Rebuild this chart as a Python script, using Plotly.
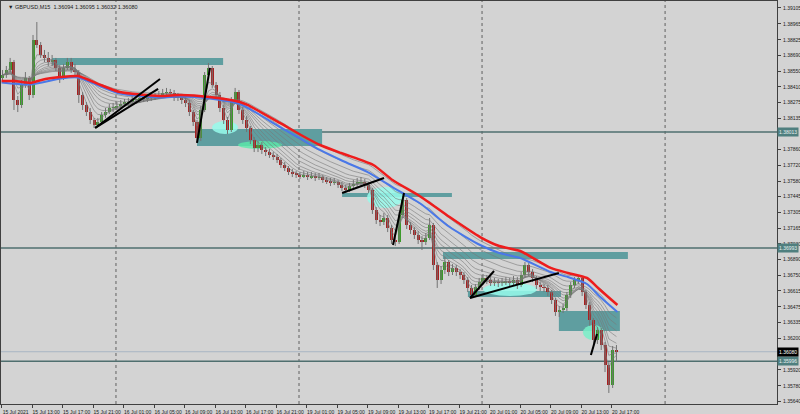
import plotly.graph_objects as go

# ---------------- DATA (GBPUSD, candles; 30-min resolution) ----------------
opens = [1.38489,1.38515,1.38559,1.38629,1.38295,1.38251,1.38427,1.38489,1.38339,1.38823,
 1.38779,1.38691,1.38665,1.38629,1.38647,1.38577,1.38489,1.38577,1.38629,1.38559,
 1.38541,1.38339,1.38251,1.38189,1.38119,1.38075,1.38101,1.38163,1.38189,1.38225,
 1.38233,1.38242,1.38260,1.38269,1.38277,1.38295,1.38295,1.38313,1.38304,1.38313,
 1.38330,1.38321,1.38339,1.38357,1.38365,1.38357,1.38313,1.38321,1.38295,1.38269,
 1.38189,1.38101,1.37961,1.38207,1.38515,1.38577,1.38427,1.38339,1.38225,1.38119,
 1.38031,1.38295,1.38365,1.38207,1.38119,1.38049,1.37943,1.37873,1.37899,1.37855,
 1.37837,1.37811,1.37793,1.37767,1.37723,1.37697,1.37661,1.37644,1.37635,1.37626,
 1.37635,1.37617,1.37626,1.37609,1.37617,1.37591,1.37582,1.37565,1.37573,1.37547,
 1.37521,1.37503,1.37538,1.37556,1.37565,1.37573,1.37547,1.37503,1.37327,1.37239,
 1.37221,1.37257,1.37169,1.37063,1.37045,1.37283,1.37415,1.37195,1.37151,1.37107,
 1.37063,1.37045,1.37081,1.37195,1.36843,1.36711,1.36799,1.36869,1.36781,1.36816,
 1.36781,1.36755,1.36711,1.36641,1.36579,1.36649,1.36693,1.36729,1.36711,1.36685,
 1.36693,1.36685,1.36693,1.36702,1.36685,1.36711,1.36667,1.36755,1.36843,1.36781,
 1.36729,1.36667,1.36649,1.36641,1.36605,1.36535,1.36429,1.36447,1.36465,1.36579,
 1.36667,1.36711,1.36729,1.36605,1.36491,1.36359,1.36183,1.36271,1.36139,1.35963,
 1.35787,1.36095]
highs = [1.38559,1.38594,1.38665,1.38647,1.38330,1.38471,1.38541,1.38506,1.38867,1.38981,
 1.38805,1.38735,1.38717,1.38691,1.38665,1.38603,1.38612,1.38665,1.38665,1.38612,
 1.38559,1.38365,1.38277,1.38225,1.38137,1.38137,1.38189,1.38225,1.38260,1.38269,
 1.38277,1.38295,1.38304,1.38313,1.38330,1.38330,1.38348,1.38339,1.38348,1.38365,
 1.38357,1.38374,1.38392,1.38401,1.38392,1.38383,1.38357,1.38348,1.38321,1.38295,
 1.38207,1.38119,1.38242,1.38541,1.38621,1.38594,1.38453,1.38365,1.38251,1.38145,
 1.38321,1.38401,1.38383,1.38233,1.38154,1.38066,1.37969,1.37934,1.37925,1.37881,
 1.37864,1.37837,1.37820,1.37785,1.37749,1.37714,1.37688,1.37670,1.37661,1.37670,
 1.37661,1.37661,1.37653,1.37653,1.37635,1.37617,1.37609,1.37609,1.37591,1.37573,
 1.37547,1.37565,1.37591,1.37609,1.37617,1.37600,1.37573,1.37521,1.37353,1.37283,
 1.37301,1.37283,1.37195,1.37098,1.37309,1.37450,1.37433,1.37221,1.37177,1.37142,
 1.37098,1.37125,1.37257,1.37213,1.36869,1.36834,1.36913,1.36887,1.36851,1.36843,
 1.36807,1.36781,1.36737,1.36667,1.36676,1.36729,1.36764,1.36755,1.36737,1.36729,
 1.36720,1.36729,1.36737,1.36729,1.36746,1.36737,1.36781,1.36869,1.36860,1.36807,
 1.36746,1.36693,1.36676,1.36667,1.36623,1.36553,1.36482,1.36500,1.36605,1.36693,
 1.36737,1.36755,1.36746,1.36623,1.36517,1.36377,1.36298,1.36289,1.36165,1.35989,
 1.36130,1.36139]
lows = [1.38453,1.38489,1.38541,1.38207,1.38189,1.38225,1.38401,1.38295,1.38313,1.38753,
 1.38665,1.38629,1.38594,1.38594,1.38550,1.38445,1.38471,1.38559,1.38533,1.38506,
 1.38269,1.38207,1.38154,1.38084,1.38049,1.38057,1.38084,1.38137,1.38172,1.38189,
 1.38207,1.38216,1.38233,1.38242,1.38251,1.38260,1.38269,1.38277,1.38277,1.38286,
 1.38295,1.38304,1.38321,1.38330,1.38321,1.38286,1.38286,1.38260,1.38233,1.38154,
 1.38066,1.37917,1.37934,1.38189,1.38489,1.38401,1.38304,1.38189,1.38084,1.37996,
 1.38013,1.38260,1.38172,1.38084,1.38013,1.37908,1.37837,1.37837,1.37820,1.37802,
 1.37785,1.37767,1.37741,1.37697,1.37670,1.37635,1.37617,1.37609,1.37600,1.37609,
 1.37591,1.37600,1.37582,1.37591,1.37565,1.37556,1.37538,1.37547,1.37521,1.37494,
 1.37477,1.37485,1.37521,1.37529,1.37538,1.37521,1.37477,1.37292,1.37204,1.37186,
 1.37195,1.37133,1.37028,1.37010,1.37028,1.37257,1.37160,1.37116,1.37072,1.37028,
 1.36975,1.37019,1.37063,1.36799,1.36641,1.36676,1.36764,1.36746,1.36755,1.36746,
 1.36720,1.36676,1.36605,1.36553,1.36561,1.36623,1.36667,1.36676,1.36658,1.36658,
 1.36649,1.36658,1.36667,1.36649,1.36667,1.36632,1.36649,1.36729,1.36746,1.36693,
 1.36632,1.36614,1.36605,1.36570,1.36500,1.36395,1.36386,1.36421,1.36438,1.36553,
 1.36641,1.36676,1.36570,1.36456,1.36307,1.36130,1.36148,1.36095,1.35901,1.35717,
 1.35761,1.35989]
closes = [1.38515,1.38559,1.38629,1.38295,1.38251,1.38427,1.38489,1.38339,1.38823,1.38779,
 1.38691,1.38665,1.38629,1.38647,1.38577,1.38489,1.38577,1.38629,1.38559,1.38541,
 1.38339,1.38251,1.38189,1.38119,1.38075,1.38101,1.38163,1.38189,1.38225,1.38233,
 1.38242,1.38260,1.38269,1.38277,1.38295,1.38295,1.38313,1.38304,1.38313,1.38330,
 1.38321,1.38339,1.38357,1.38365,1.38357,1.38313,1.38321,1.38295,1.38269,1.38189,
 1.38101,1.37961,1.38207,1.38515,1.38577,1.38427,1.38339,1.38225,1.38119,1.38031,
 1.38295,1.38365,1.38207,1.38119,1.38049,1.37943,1.37873,1.37899,1.37855,1.37837,
 1.37811,1.37793,1.37767,1.37723,1.37697,1.37661,1.37644,1.37635,1.37626,1.37635,
 1.37617,1.37626,1.37609,1.37617,1.37591,1.37582,1.37565,1.37573,1.37547,1.37521,
 1.37503,1.37538,1.37556,1.37565,1.37573,1.37547,1.37503,1.37327,1.37239,1.37221,
 1.37257,1.37169,1.37063,1.37045,1.37283,1.37415,1.37195,1.37151,1.37107,1.37063,
 1.37045,1.37081,1.37195,1.36843,1.36711,1.36799,1.36869,1.36781,1.36816,1.36781,
 1.36755,1.36711,1.36641,1.36579,1.36649,1.36693,1.36729,1.36711,1.36685,1.36693,
 1.36685,1.36693,1.36702,1.36685,1.36711,1.36667,1.36755,1.36843,1.36781,1.36729,
 1.36667,1.36649,1.36641,1.36605,1.36535,1.36429,1.36447,1.36465,1.36579,1.36667,
 1.36711,1.36729,1.36605,1.36491,1.36359,1.36183,1.36271,1.36139,1.35963,1.35787,
 1.36095,1.36080]

# slow moving averages (red / blue): (M15 bar index, price)
red_idx = [0,7,15,23,31,40,52,62,83,94,109,125,129,146,157,167,178,181,195,205,220,235,251,261,272,288,297,307,314,323]
red_val = [1.38462,1.38462,1.38445,1.38480,1.38497,1.38506,1.38427,1.38365,1.38330,1.38339,1.38321,1.38277,1.38251,1.38093,1.37987,1.37899,1.37829,1.37811,1.37723,1.37591,1.37442,1.37265,1.37089,1.37010,1.36966,1.36817,1.36773,1.36729,1.36623,1.36491]
blue_idx = [0,15,31,40,52,62,83,94,109,125,146,157,167,179,192,205,220,235,251,261,272,288,297,307,314,323]
blue_val = [1.38449,1.38431,1.38484,1.38493,1.38414,1.38352,1.38317,1.38326,1.38308,1.38260,1.38057,1.37952,1.37855,1.37758,1.37661,1.37529,1.37380,1.37177,1.37019,1.36949,1.36905,1.36781,1.36737,1.36676,1.36561,1.36429]
fan_periods = [3,5,7,9,12,15,19,24,30,37]

# x-axis time labels (every 16 M15 bars)
x_tick_idx = [0,16,32,48,64,80,96,112,128,144,160,176,192,208,224,240,256,272,288,304,320]
x_tick_txt = ["15 Jul 2021","15 Jul 13:00","15 Jul 17:00","15 Jul 21:00","16 Jul 01:00","16 Jul 05:00",
              "16 Jul 09:00","16 Jul 13:00","16 Jul 17:00","16 Jul 21:00","19 Jul 01:00","19 Jul 05:00",
              "19 Jul 09:00","19 Jul 13:00","19 Jul 17:00","19 Jul 21:00","20 Jul 01:00","20 Jul 05:00",
              "20 Jul 09:00","20 Jul 13:00","20 Jul 17:00"]
day_sep_idx = [60,156,252,348]
y_ticks = [1.39105,1.38965,1.38825,1.38690,1.38550,1.38410,1.38275,1.38135,1.37860,1.37720,1.37580,
           1.37445,1.37305,1.37165,1.37030,1.36890,1.36750,1.36615,1.36475,1.36335,1.36200,1.35920,1.35780,1.35640]

# drawn objects: zones (x0,x1,y0,y1), trend lines, highlights, horizontal levels
zones = [(26.5,116.2,1.38603,1.38665),(102.5,168.1,1.37890,1.38040),(178.6,236.2,1.37442,1.37477),
         (231.5,328.5,1.36896,1.36957),(244.6,293.4,1.36561,1.36614),(292.3,324.3,1.36262,1.36438)]
trend_lines = [(49.1,1.38049,83.1,1.38480),(49.1,1.38049,82.1,1.38392),(102.5,1.37917,109.3,1.38577),
               (178.6,1.37477,200.6,1.37609),(205.3,1.37019,211.1,1.37477),(245.7,1.36553,258.3,1.36790),
               (245.7,1.36553,292.3,1.36773),(309.1,1.36051,312.3,1.36236)]
glows = [(110.4,124.0,1.37996,1.38110,"rgba(150,250,235,0.85)"),(124.0,147.1,1.37864,1.37934,"rgba(90,235,170,0.8)"),
         (191.7,210.5,1.37345,1.37529,"rgba(150,250,235,0.85)"),(252.5,280.8,1.36570,1.36685,"rgba(150,250,235,0.85)"),
         (304.9,315.9,1.36183,1.36315,"rgba(120,240,200,0.85)")]
levels = [1.38013, 1.36993, 1.35996]
level_labels = ["1.38013", "1.36993", "1.35996"]
bid = 1.36080
title_txt = "\u25bc GBPUSD,M15  1.36094 1.36095 1.36032 1.36080"

# ---------------- BUILD ----------------
n = len(closes)
bar_x = [2 * k + 0.5 for k in range(n)]

def ema(vals, p):
    a = 2.0 / (p + 1)
    out = [vals[0]]
    for v in vals[1:]:
        out.append(out[-1] + a * (v - out[-1]))
    return out

fig = go.Figure()

for p in fan_periods:
    fig.add_trace(go.Scatter(x=bar_x, y=ema(closes, p), mode="lines",
                             line=dict(color="rgba(120,120,120,0.85)", width=0.7),
                             hoverinfo="skip", showlegend=False))

wx, wy = [], []
for x, h, l in zip(bar_x, highs, lows):
    wx += [x, x, None]
    wy += [h, l, None]
fig.add_trace(go.Scatter(x=wx, y=wy, mode="lines", line=dict(color="#737373", width=1),
                         hoverinfo="skip", showlegend=False))

bases = [min(o, c) for o, c in zip(opens, closes)]
heights = [max(abs(c - o), 0.00002) for o, c in zip(opens, closes)]
cols = ["#3c9a2a" if c >= o else "#a82020" for o, c in zip(opens, closes)]
fig.add_trace(go.Bar(x=bar_x, y=heights, base=bases, width=1.6, marker=dict(color=cols, line=dict(width=0)),
                     hoverinfo="skip", showlegend=False))

fig.add_trace(go.Scatter(x=blue_idx, y=blue_val, mode="lines", line=dict(color="#4a78e8", width=2, shape="spline", smoothing=0.6),
                         hoverinfo="skip", showlegend=False))
fig.add_trace(go.Scatter(x=red_idx, y=red_val, mode="lines", line=dict(color="#ee1c1c", width=2.5, shape="spline", smoothing=0.6),
                         hoverinfo="skip", showlegend=False))

shapes = []
for x0, x1, y0, y1 in zones:
    shapes.append(dict(type="rect", xref="x", yref="y", x0=x0, x1=x1, y0=y0, y1=y1,
                       fillcolor="#5f9ea0", line=dict(width=0), layer="below"))
for x0, x1, y0, y1, c in glows:
    shapes.append(dict(type="circle", xref="x", yref="y", x0=x0, x1=x1, y0=y0, y1=y1,
                       fillcolor=c, line=dict(width=0), layer="below"))
for d in day_sep_idx:
    shapes.append(dict(type="line", xref="x", yref="paper", x0=d, x1=d, y0=0, y1=1,
                       line=dict(color="#606060", width=1, dash="dot"), layer="below"))
for lv in levels:
    shapes.append(dict(type="line", xref="paper", yref="y", x0=0, x1=1, y0=lv, y1=lv,
                       line=dict(color="#4f6f6f", width=1.5), layer="below"))
shapes.append(dict(type="line", xref="paper", yref="y", x0=0, x1=1, y0=bid, y1=bid,
                   line=dict(color="#a9b6c4", width=1), layer="below"))
for x0, y0, x1, y1 in trend_lines:
    shapes.append(dict(type="line", xref="x", yref="y", x0=x0, y0=y0, x1=x1, y1=y1,
                       line=dict(color="#000000", width=2)))

annotations = [dict(x=0.006, y=0.997, xref="paper", yref="paper", xanchor="left", yanchor="top",
                    text=title_txt, showarrow=False, font=dict(size=5.5, color="#202020", family="Liberation Sans"))]
box_font = dict(size=5, family="Liberation Sans")
for lv, t in zip(levels, level_labels):
    annotations.append(dict(x=1, y=lv, xref="paper", yref="y", xanchor="left", yanchor="middle", xshift=0,
                            text=t, showarrow=False, bgcolor="#4f7f7f", borderpad=1,
                            font=dict(color="#e8f0f0", **box_font)))
annotations.append(dict(x=1, y=bid, xref="paper", yref="y", xanchor="left", yanchor="middle", xshift=0,
                        text="1.36080", showarrow=False, bgcolor="#000000", borderpad=1,
                        font=dict(color="#ffffff", **box_font)))

tick_font = dict(size=5, color="#202020", family="Liberation Sans")
fig.update_layout(
    width=800, height=414, margin=dict(l=1, r=23, t=1, b=10),
    paper_bgcolor="#d3d3d3", plot_bgcolor="#d3d3d3",
    shapes=shapes, annotations=annotations, showlegend=False, bargap=0,
    xaxis=dict(range=[-0.3, 406.7], tickmode="array", tickvals=x_tick_idx, ticktext=x_tick_txt,
               tickangle=0, ticks="outside", ticklen=3, tickcolor="#404040", showgrid=False, zeroline=False,
               showline=True, linecolor="#404040", mirror=True, tickfont=tick_font,
               ticklabelshift=14, ticklabelstandoff=0, automargin=False, fixedrange=True),
    yaxis=dict(range=[1.35620, 1.39166], side="right", tickmode="array", tickvals=y_ticks,
               ticktext=["%.5f" % v for v in y_ticks], ticks="outside", ticklen=3, tickcolor="#404040",
               showgrid=False, zeroline=False, showline=True, linecolor="#404040", mirror=True,
               tickfont=tick_font, ticklabelstandoff=1, automargin=False, fixedrange=True),
)

fig.write_html("out.html", config={"displayModeBar": False},
               post_script="document.body.style.margin='0';document.body.style.background='#d3d3d3';")
